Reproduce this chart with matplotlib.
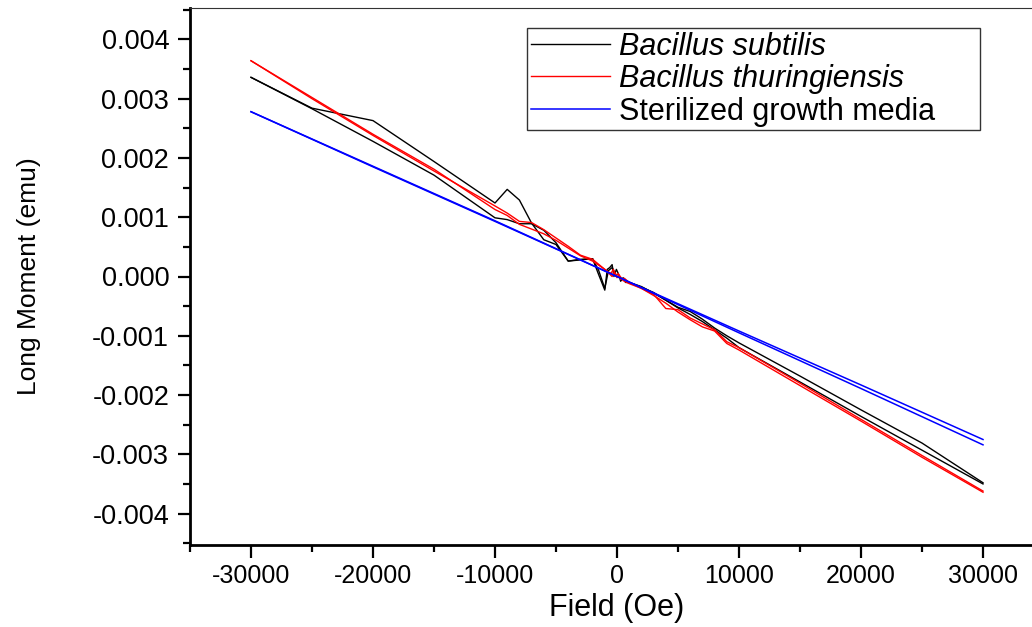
import matplotlib
matplotlib.use('Agg')
import matplotlib.pyplot as plt
from matplotlib.ticker import MultipleLocator, FuncFormatter

plt.rcParams['font.family'] = ['Liberation Sans', 'DejaVu Sans']
plt.rcParams['axes.unicode_minus'] = False

# Bacillus subtilis - two branches of the loop (field in Oe, moment in emu)
bs_field_a = [-30000, -25000, -20000, -15000, -10000, -9000, -8000, -7000, -6000, -5000,
              -4000, -3000, -2000, -1500, -1000, -800, -600, -400, -250, -50, 150, 300,
              500, 700, 1000, 2000, 3000, 4000, 5000, 6000, 7000, 8000, 9000, 10000,
              15000, 20000, 25000, 30000]
bs_moment_a = [0.00336, 0.00284, 0.00263, 0.00194, 0.00124, 0.00147, 0.00129, 0.00090, 0.00062, 0.00054,
               0.00026, 0.00029, 0.00030, 0.00003, -0.00023, 0.00012, 0.00015, 0.00020, 0.00000, 0.00012, 0.00003, -0.00008,
               -0.00002, -0.00010, -0.00010, -0.00018, -0.00027, -0.00040, -0.00052, -0.00059, -0.00072, -0.00087, -0.00100, -0.00112,
               -0.00168, -0.00225, -0.00281, -0.00348]

bs_field_b = [-30000, -25000, -20000, -15000, -10000, -9000, -8000, -7000, -6000, -5000,
              -4000, -3000, -2000, -1500, -1000, -700, -400, 0, 500, 1000, 2000, 3000,
              4000, 5000, 6000, 7000, 8000, 9000, 10000, 15000, 20000, 25000, 30000]
bs_moment_b = [0.00336, 0.00283, 0.00228, 0.00171, 0.00099, 0.00096, 0.00089, 0.00089, 0.00078, 0.00057,
               0.00026, 0.00028, 0.00030, 0.00010, -0.00020, 0.00010, 0.00015, 0.00000, -0.00005, -0.00010, -0.00017, -0.00028,
               -0.00040, -0.00053, -0.00064, -0.00076, -0.00090, -0.00104, -0.00120, -0.00178, -0.00236, -0.00293, -0.00350]

# Bacillus thuringiensis
bt_field_a = [-30000, -25000, -20000, -15000, -10000, -9000, -8000, -7000, -6000, -5000,
              -4000, -3000, -2000, -1000, -500, -300, -100, 100, 300, 600, 1000, 2000,
              3000, 4000, 5000, 6000, 7000, 8000, 9000, 10000, 15000, 20000, 25000, 30000]
bt_moment_a = [0.00364, 0.00300, 0.00238, 0.00178, 0.00119, 0.00107, 0.00093, 0.00091, 0.00079, 0.00065,
               0.00051, 0.00036, 0.00029, 0.00012, 0.00005, 0.00012, 0.00000, 0.00005, -0.00005, -0.00003, -0.00010, -0.00020,
               -0.00030, -0.00054, -0.00056, -0.00070, -0.00080, -0.00090, -0.00110, -0.00120, -0.00180, -0.00241, -0.00302, -0.00362]

bt_field_b = [-30000, -25000, -20000, -15000, -10000, -9000, -8000, -7000, -6000, -5000,
              -4000, -3000, -2000, -1000, -400, -200, 0, 200, 500, 1000, 2000, 3000,
              4000, 5000, 6000, 7000, 8000, 9000, 10000, 15000, 20000, 25000, 30000]
bt_moment_b = [0.00364, 0.00302, 0.00240, 0.00181, 0.00113, 0.00103, 0.00088, 0.00080, 0.00072, 0.00061,
               0.00048, 0.00035, 0.00026, 0.00012, 0.00000, 0.00008, -0.00002, 0.00002, -0.00007, -0.00012, -0.00020, -0.00032,
               -0.00045, -0.00060, -0.00073, -0.00085, -0.00092, -0.00113, -0.00124, -0.00184, -0.00244, -0.00305, -0.00364]

# Sterilized growth media
sm_field = [-30000, -20000, -10000, 0, 10000, 20000, 30000]
sm_moment_a = [0.00278, 0.00185, 0.00093, 0.00000, -0.00092, -0.00183, -0.00275]
sm_moment_b = [0.00278, 0.00186, 0.00094, 0.00000, -0.00095, -0.00189, -0.00284]

fig = plt.figure(figsize=(10.32, 6.27), dpi=100)
ax = fig.add_axes([190 / 1032, 82 / 627, 854 / 1032, 537 / 627])

ax.plot(bs_field_a, bs_moment_a, color='black', lw=1.0, label='Bacillus subtilis')
ax.plot(bs_field_b, bs_moment_b, color='black', lw=1.0)
ax.plot(bt_field_a, bt_moment_a, color='red', lw=1.0, label='Bacillus thuringiensis')
ax.plot(bt_field_b, bt_moment_b, color='red', lw=1.0)
ax.plot(sm_field, sm_moment_a, color='blue', lw=1.1, label='Sterilized growth media')
ax.plot(sm_field, sm_moment_b, color='blue', lw=1.1)

ax.set_xlim(-35000, 35000)
ax.set_ylim(-0.00453, 0.00453)

ax.xaxis.set_major_locator(MultipleLocator(10000))
ax.xaxis.set_minor_locator(MultipleLocator(5000))
ax.yaxis.set_major_locator(MultipleLocator(0.001))
ax.yaxis.set_minor_locator(MultipleLocator(0.0005))
ax.xaxis.set_major_formatter(FuncFormatter(lambda v, p: f'{int(round(v))}'))
ax.yaxis.set_major_formatter(FuncFormatter(lambda v, p: f'{round(v, 6) + 0.0:.3f}'))

ax.tick_params(which='major', direction='out', length=9, width=1.6)
ax.tick_params(which='minor', direction='out', length=5, width=1.6)
ax.tick_params(axis='x', labelsize=18, pad=5)
ax.tick_params(axis='y', labelsize=19.5, pad=6)

for s in ['left', 'bottom']:
    ax.spines[s].set_linewidth(2)
ax.spines['top'].set_linewidth(0.8)
ax.spines['top'].set_color('#333333')
ax.spines['right'].set_visible(False)

ax.set_xlabel('Field (Oe)', fontsize=22, labelpad=3)
ax.set_ylabel('Long Moment (emu)', fontsize=19)
ax.yaxis.set_label_coords(-0.175, 0.5)

# legend frame spans x 527..980 px, top at 28 px
leg = ax.legend(loc='upper left',
                bbox_to_anchor=(527 / 1032, 1 - 124 / 627, 453 / 1032, 96 / 627),
                bbox_transform=fig.transFigure, mode='expand', fontsize=22,
                frameon=True, fancybox=False, borderaxespad=0, borderpad=0.12,
                labelspacing=0.08, handlelength=2.6, handletextpad=0.3)
leg.get_frame().set_edgecolor('black')
leg.get_frame().set_linewidth(1.0)
for t in leg.get_texts()[:2]:
    t.set_fontstyle('italic')

fig.savefig('out.png', dpi=100)
